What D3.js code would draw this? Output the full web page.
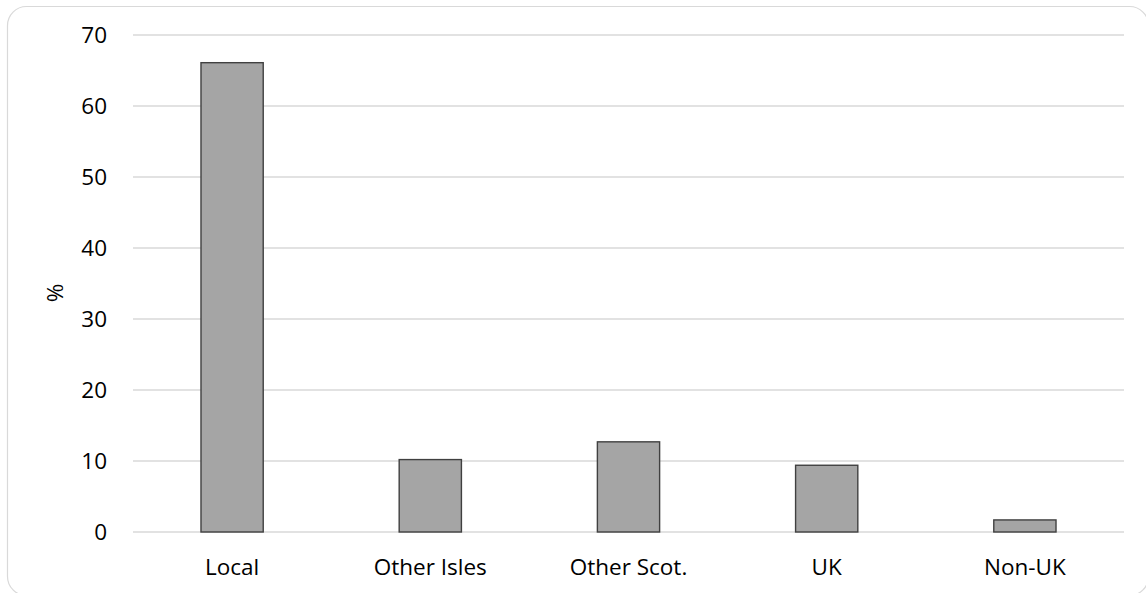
<!DOCTYPE html>
<html>
<head>
<meta charset="utf-8">
<script src="https://cdn.jsdelivr.net/npm/d3@7"></script>
<style>
  html, body { margin: 0; padding: 0; background: #fff; }
  svg text { font-family: "Open Sans", "Noto Sans", sans-serif; fill: #000; }
</style>
</head>
<body>
<svg id="chart" width="1146" height="593"></svg>
<script>
// Share of respondents by origin (%)
const categories = ["Local", "Other Isles", "Other Scot.", "UK", "Non-UK"];
const values = [66.1, 10.2, 12.7, 9.4, 1.7];
const yTicks = [0, 10, 20, 30, 40, 50, 60, 70];
const yLabel = "%";

const svg = d3.select("#chart");
const W = 1146, H = 593;
const margin = { left: 133, right: 22, top: 35, bottom: 61 };
const fontSize = 22.5;

// Card outline (runs slightly past the right and bottom edges)
svg.append("rect")
  .attr("x", 7.5).attr("y", 6.5)
  .attr("width", 1141).attr("height", 589)
  .attr("rx", 19).attr("ry", 19)
  .attr("fill", "#fff")
  .attr("stroke", "#d9d9d9").attr("stroke-width", 1.2);

const x = d3.scaleBand()
  .domain(categories)
  .range([margin.left, W - margin.right])
  .paddingInner(0.686)
  .paddingOuter(0.343);

const y = d3.scaleLinear()
  .domain([0, 70])
  .range([H - margin.bottom, margin.top]);

// Gridlines
svg.append("g")
  .selectAll("line")
  .data(yTicks)
  .join("line")
  .attr("x1", margin.left).attr("x2", W - margin.right)
  .attr("y1", d => y(d)).attr("y2", d => y(d))
  .attr("stroke", "#d9d9d9").attr("stroke-width", 1.4);

// Y axis labels
const yAxis = d3.axisLeft(y).tickValues(yTicks).tickSize(0).tickPadding(26);
const gy = svg.append("g").attr("transform", `translate(${margin.left},0)`).call(yAxis);
gy.select(".domain").remove();
gy.selectAll("text").attr("font-size", fontSize).style("font-family", "'Open Sans', sans-serif");

// Bars
svg.append("g")
  .selectAll("rect")
  .data(values)
  .join("rect")
  .attr("x", (d, i) => x(categories[i]))
  .attr("y", d => y(d))
  .attr("width", x.bandwidth())
  .attr("height", d => y(0) - y(d))
  .attr("fill", "#a5a5a5")
  .attr("stroke", "#404040")
  .attr("stroke-width", 1.4);

// X axis labels
const xAxis = d3.axisBottom(x).tickSize(0).tickPadding(27);
const gx = svg.append("g").attr("transform", `translate(0,${y(0)})`).call(xAxis);
gx.select(".domain").remove();
gx.selectAll("text").attr("font-size", fontSize).style("font-family", "'Open Sans', sans-serif");

// Y axis title
svg.append("text")
  .attr("transform", `translate(63,293) rotate(-90)`)
  .attr("text-anchor", "middle")
  .attr("font-size", fontSize)
  .text(yLabel);
</script>
</body>
</html>
